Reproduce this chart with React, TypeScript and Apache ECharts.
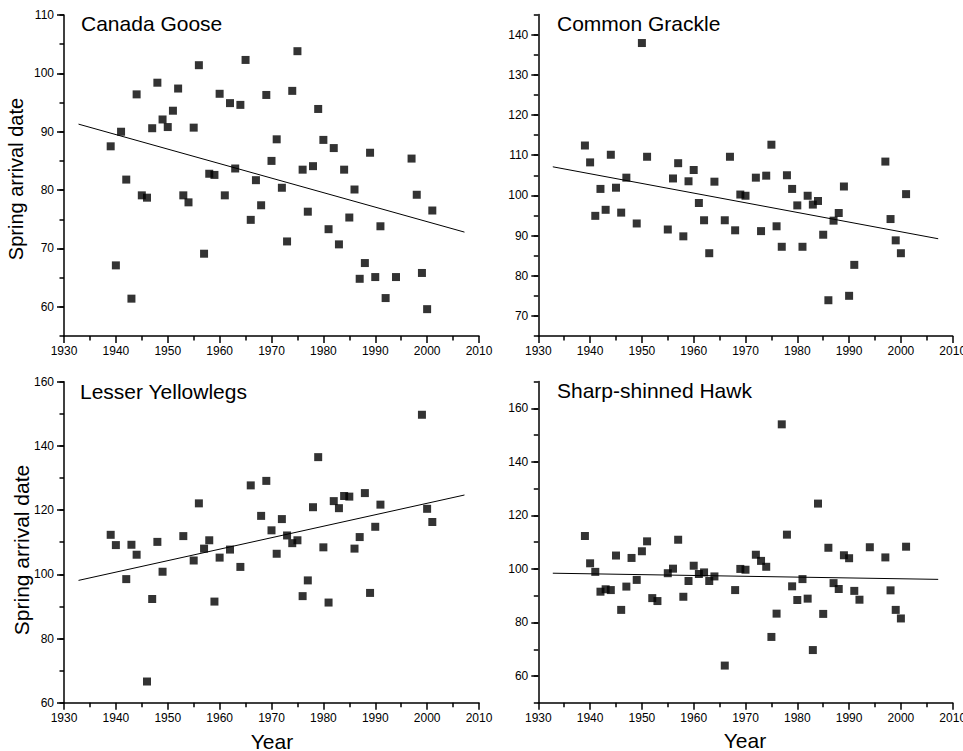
import React, { useEffect, useRef } from "react";
import * as echarts from "echarts";

// ---- Data ----
const gooseYears = [1939,1940,1941,1942,1943,1944,1945,1946,1947,1948,1949,1950,1951,1952,1953,1954,1955,1956,1957,1958,1959,1960,1961,1962,1963,1964,1965,1966,1967,1968,1969,1970,1971,1972,1973,1974,1975,1976,1977,1978,1979,1980,1981,1982,1983,1984,1985,1986,1987,1988,1989,1990,1991,1992,1994,1997,1998,1999,2000,2001];
const gooseDates = [87.5,67.1,90.0,81.8,61.4,96.4,79.1,78.7,90.6,98.4,92.1,90.8,93.6,97.4,79.1,77.9,90.7,101.4,69.1,82.8,82.6,96.5,79.1,94.9,83.7,94.6,102.3,74.9,81.7,77.4,96.3,85.0,88.7,80.4,71.2,97.0,103.8,83.5,76.3,84.1,93.9,88.6,73.3,87.2,70.7,83.5,75.3,80.1,64.8,67.5,86.4,65.1,73.8,61.5,65.1,85.4,79.2,65.8,59.6,76.5];

const grackleYears = [1939,1940,1941,1942,1943,1944,1945,1946,1947,1949,1950,1951,1955,1956,1957,1958,1959,1960,1961,1962,1963,1964,1966,1967,1968,1969,1970,1972,1973,1974,1975,1976,1977,1978,1979,1980,1981,1982,1983,1984,1985,1986,1987,1988,1989,1990,1991,1997,1998,1999,2000,2001];
const grackleDates = [112.4,108.2,94.9,101.6,96.4,110.1,101.9,95.7,104.4,93.0,137.9,109.6,91.5,104.2,108.0,89.8,103.5,106.3,98.1,93.8,85.6,103.4,93.8,109.6,91.3,100.2,99.9,104.4,91.1,104.9,112.6,92.3,87.2,105.0,101.6,97.5,87.2,99.9,97.7,98.6,90.2,73.9,93.7,95.6,102.2,75.0,82.7,108.4,94.1,88.8,85.6,100.3];

const yellowlegsYears = [1939,1940,1942,1943,1944,1946,1947,1948,1949,1953,1955,1956,1957,1958,1959,1960,1962,1964,1966,1968,1969,1970,1971,1972,1973,1974,1975,1976,1977,1978,1979,1980,1981,1982,1983,1984,1985,1986,1987,1988,1989,1990,1991,1999,2000,2001];
const yellowlegsDates = [112.3,109.1,98.5,109.2,106.1,66.6,92.3,110.1,100.8,111.9,104.3,122.1,108.0,110.6,91.5,105.2,107.7,102.3,127.7,118.2,129.1,113.7,106.4,117.2,112.1,109.7,110.6,93.2,98.1,120.9,136.5,108.4,91.2,122.8,120.6,124.4,124.2,108.0,111.6,125.3,94.2,114.8,121.7,149.7,120.4,116.3];

const hawkYears = [1939,1940,1941,1942,1943,1944,1945,1946,1947,1948,1949,1950,1951,1952,1953,1955,1956,1957,1958,1959,1960,1961,1962,1963,1964,1966,1968,1969,1970,1972,1973,1974,1975,1976,1977,1978,1979,1980,1981,1982,1983,1984,1985,1986,1987,1988,1989,1990,1991,1992,1994,1997,1998,1999,2000,2001];
const hawkDates = [112.3,102.1,98.9,91.5,92.4,92.1,105.0,84.7,93.4,104.1,95.9,106.6,110.3,89.1,88.0,98.4,100.1,110.9,89.6,95.5,101.2,98.1,98.7,95.5,97.2,63.9,92.1,100.0,99.7,105.3,103.0,100.8,74.6,83.3,154.0,112.8,93.5,88.4,96.2,88.9,69.7,124.4,83.2,107.9,94.7,92.5,105.1,104.0,91.8,88.5,108.1,104.3,92.0,84.7,81.5,108.3];

// Regression line end points
const trendYears = [1932.8, 2007.2];
const gooseTrend = [91.3, 72.8];
const grackleTrend = [107.1, 89.2];
const yellowlegsTrend = [98.1, 124.7];
const hawkTrend = [98.4, 96.1];

// Tick labels
const yearTicks = [1930, 1940, 1950, 1960, 1970, 1980, 1990, 2000, 2010];
const gooseTicks = [60, 70, 80, 90, 100, 110];
const grackleTicks = [70, 80, 90, 100, 110, 120, 130, 140];
const yellowlegsTicks = [60, 80, 100, 120, 140, 160];
const hawkTicks = [60, 80, 100, 120, 140, 160];

const titles = ["Canada Goose", "Common Grackle", "Lesser Yellowlegs", "Sharp-shinned Hawk"];
const yTitle = "Spring arrival date";
const xTitle = "Year";

const FONT = "'Liberation Sans', Arial, Helvetica, sans-serif";

export default function App() {
  const ref = useRef<HTMLDivElement>(null);

  useEffect(() => {
    if (!ref.current) return;
    const chart = echarts.init(ref.current, undefined, { renderer: "svg" });

    const panels = [
      { years: gooseYears, dates: gooseDates, trend: gooseTrend, ticks: gooseTicks, min: 55, max: 110, step: 5,
        grid: { left: 64, top: 15, width: 415, height: 321 } },
      { years: grackleYears, dates: grackleDates, trend: grackleTrend, ticks: grackleTicks, min: 65, max: 145, step: 5,
        grid: { left: 538.3, top: 14.5, width: 414.4, height: 321.5 } },
      { years: yellowlegsYears, dates: yellowlegsDates, trend: yellowlegsTrend, ticks: yellowlegsTicks, min: 60, max: 160, step: 10,
        grid: { left: 64, top: 381.7, width: 415, height: 321 } },
      { years: hawkYears, dates: hawkDates, trend: hawkTrend, ticks: hawkTicks, min: 50, max: 170, step: 10,
        grid: { left: 538.3, top: 381.5, width: 414.4, height: 321.3 } },
    ];

    const black = "#000";
    const grids: any[] = [];
    const xAxes: any[] = [];
    const yAxes: any[] = [];
    const series: any[] = [];

    panels.forEach((p, i) => {
      grids.push({ ...p.grid, containLabel: false, outerBoundsMode: "none" });
      xAxes.push({
        type: "value", gridIndex: i, min: yearTicks[0], max: yearTicks[yearTicks.length - 1], interval: 10,
        axisLine: { show: true, onZero: false, lineStyle: { color: black, width: 1.5 } },
        axisTick: { show: true, length: 7, lineStyle: { color: black, width: 1.5 } },
        minorTick: { show: true, splitNumber: 2, length: 4.5, lineStyle: { color: black, width: 1.5 } },
        axisLabel: { show: true, color: black, fontSize: 12, fontFamily: FONT, margin: 9,
          hideOverlap: false, formatter: (v: number) => String(v) },
        splitLine: { show: false },
      });
      // data axis: short ticks every step
      yAxes.push({
        type: "value", gridIndex: i, position: "left", min: p.min, max: p.max, interval: p.step,
        axisLine: { show: true, onZero: false, lineStyle: { color: black, width: 1.5 } },
        axisTick: { show: true, length: 4.5, lineStyle: { color: black, width: 1.5 } },
        axisLabel: { show: false },
        splitLine: { show: false },
      });
      // overlay axis: long ticks and labels at the major values
      yAxes.push({
        type: "value", gridIndex: i, position: "left", min: p.min, max: p.max, interval: p.step,
        axisLine: { show: false },
        axisTick: { show: true, length: 7, customValues: p.ticks, lineStyle: { color: black, width: 1.5 } },
        axisLabel: { show: true, customValues: p.ticks, color: black, fontSize: 12, fontFamily: FONT, margin: 10 },
        splitLine: { show: false },
      });
      series.push({
        type: "scatter", xAxisIndex: i, yAxisIndex: i * 2,
        symbol: "rect", symbolSize: 8,
        itemStyle: { color: black },
        data: p.years.map((y, k) => [y, p.dates[k]]),
        silent: true,
      });
      series.push({
        type: "line", xAxisIndex: i, yAxisIndex: i * 2,
        symbol: "none", lineStyle: { color: black, width: 1 },
        data: trendYears.map((y, k) => [y, p.trend[k]]),
        silent: true,
      });
    });

    const txt = (text: string, x: number, y: number, size: number, align: string, rot = 0) => ({
      type: "text", x, y, rotation: rot, silent: true,
      style: { text, fontSize: size, fontFamily: FONT, fill: black, align, verticalAlign: "middle" },
    });

    chart.setOption({
      animation: false,
      backgroundColor: "#fff",
      grid: grids,
      xAxis: xAxes,
      yAxis: yAxes,
      series,
      graphic: [
        txt(titles[0], 81, 23.5, 21, "left"),
        txt(titles[1], 557, 23.5, 21, "left"),
        txt(titles[2], 80, 391, 21, "left"),
        txt(titles[3], 557, 390, 21, "left"),
        txt(yTitle, 16, 179, 20, "center", Math.PI / 2),
        txt(yTitle, 21.5, 550, 21, "center", Math.PI / 2),
        txt(xTitle, 272, 741, 21, "center"),
        txt(xTitle, 745, 740, 21, "center"),
      ],
    });

    return () => chart.dispose();
  }, []);

  return (
    <div
      ref={ref}
      style={{ position: "absolute", left: 0, top: 0, width: 963, height: 751, background: "#fff" }}
    />
  );
}
